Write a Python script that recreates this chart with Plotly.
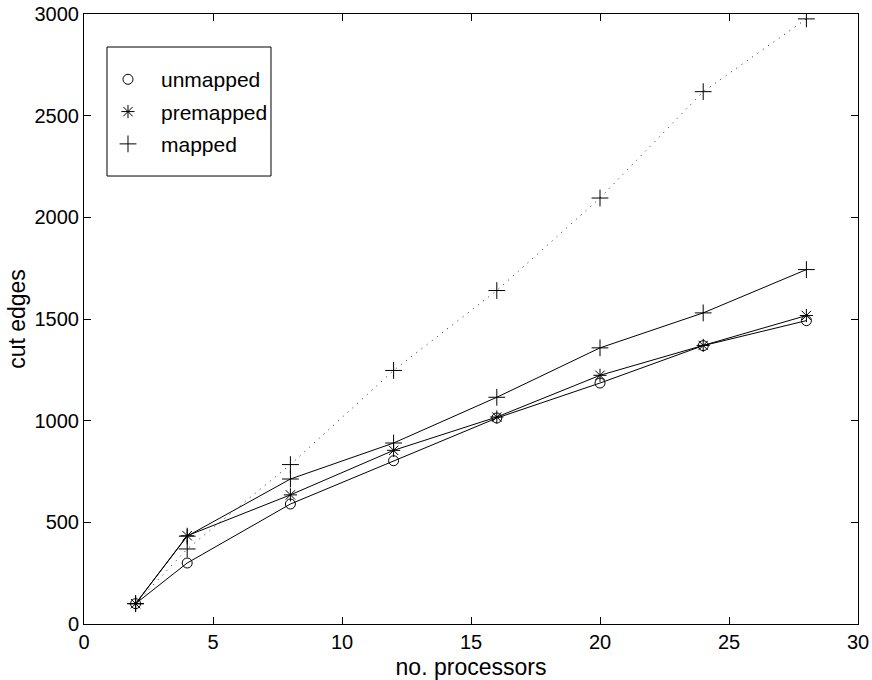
import plotly.graph_objects as go

# ---- data ----
processors = [2, 4, 8, 12, 16, 20, 24, 28]
unmapped = [100, 300, 590, 803, 1013, 1185, 1369, 1492]
premapped = [100, 434, 635, 854, 1018, 1223, 1370, 1517]
mapped = [100, 432, 713, 890, 1115, 1358, 1530, 1743]
mapped_upper = [100, 369, 784, 1247, 1640, 2095, 2618, 2976]

legend_names = ["unmapped", "premapped", "mapped"]
x_ticks = [0, 5, 10, 15, 20, 25, 30]
y_ticks = [0, 500, 1000, 1500, 2000, 2500, 3000]

FONT = "Liberation Sans, Arial, sans-serif"
symbols = ["circle-open", "asterisk-open", "cross-thin-open"]
sizes = [10, 11, 12]

fig = go.Figure()

series = [unmapped, premapped, mapped]
for vals, sym, sz in zip(series, symbols, sizes):
    fig.add_trace(go.Scatter(
        x=processors, y=vals, mode="lines+markers",
        line=dict(color="black", width=1),
        marker=dict(symbol=sym, size=sz, color="black",
                    line=dict(color="black", width=1)),
        showlegend=False, hoverinfo="x+y",
    ))

fig.add_trace(go.Scatter(
    x=processors, y=mapped_upper, mode="lines+markers",
    line=dict(color="#222222", width=1, dash="1px,5.5px"),
    marker=dict(symbol="cross-thin-open", size=12, color="black",
                line=dict(color="black", width=1)),
    showlegend=False,
))

# legend entries (markers only, like the reference)
for i, (name, sym, sz) in enumerate(zip(legend_names, symbols, sizes)):
    fig.add_trace(go.Scatter(
        x=[None], y=[None], mode="markers", name=name,
        legendgroup=f"g{i}",
        marker=dict(symbol=sym, size=sz, color="black",
                    line=dict(color="black", width=1)),
    ))

axis_common = dict(
    showline=True, linecolor="black", linewidth=1, mirror="ticks",
    ticks="inside", ticklen=7, tickwidth=1, tickcolor="black",
    showgrid=False, zeroline=False,
    tickfont=dict(family=FONT, size=20, color="black"),
)

fig.update_layout(
    width=872, height=680,
    margin=dict(l=84, r=14, t=14, b=56, autoexpand=False),
    paper_bgcolor="white", plot_bgcolor="white",
    font=dict(family=FONT, color="black"),
    xaxis=dict(range=[0, 30], tickvals=x_ticks, ticktext=[str(v) for v in x_ticks],
               title=dict(text="no. processors", font=dict(family=FONT, size=23), standoff=10),
               **axis_common),
    yaxis=dict(range=[0, 3000], tickvals=y_ticks, ticktext=[str(v) for v in y_ticks],
               title=dict(text="cut edges", font=dict(family=FONT, size=23), standoff=2),
               **axis_common),
    legend=dict(x=0.0142, y=0.926, xanchor="left", yanchor="top",
                bgcolor="rgba(0,0,0,0)", borderwidth=0,
                font=dict(family=FONT, size=21, color="black"),
                tracegroupgap=2, itemwidth=56),
    showlegend=True,
    shapes=[dict(type="rect", xref="paper", yref="paper",
                 x0=0.0297, x1=0.2416, y0=0.7344, y1=0.9459,
                 line=dict(color="black", width=1), fillcolor="white",
                 layer="below")],
)

fig.write_html(
    "out.html",
    config={"displayModeBar": False},
    post_script="document.body.style.margin='0';document.body.style.overflow='hidden';",
)
